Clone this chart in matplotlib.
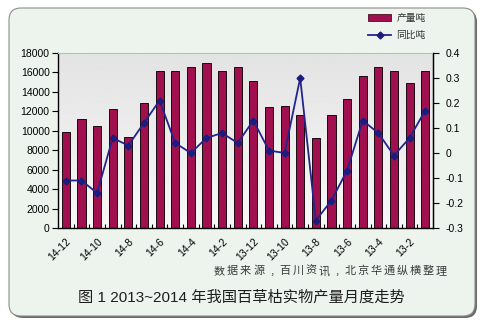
import matplotlib
matplotlib.use("Agg")
import matplotlib.pyplot as plt
import numpy as np
from matplotlib.patches import FancyBboxPatch, Patch
from matplotlib.lines import Line2D

plt.rcParams['font.family'] = ['Liberation Sans', 'Noto Sans CJK SC', 'DejaVu Sans']

# Monthly output (tons) and year-on-year change, Dec 2014 back to Jan 2013
months = ['14-12', '14-11', '14-10', '14-9', '14-8', '14-7', '14-6', '14-5',
          '14-4', '14-3', '14-2', '14-1', '13-12', '13-11', '13-10', '13-9',
          '13-8', '13-7', '13-6', '13-5', '13-4', '13-3', '13-2', '13-1']
output_t = [9900, 11200, 10500, 12200, 9400, 12900, 16100, 16100,
            16600, 17000, 16100, 16600, 15100, 12400, 12500, 11600,
            9300, 11600, 13300, 15600, 16600, 16100, 14900, 16100]
yoy = [-0.11, -0.11, -0.16, 0.06, 0.03, 0.12, 0.21, 0.04,
       0.00, 0.06, 0.08, 0.04, 0.13, 0.01, 0.00, 0.30,
       -0.27, -0.19, -0.07, 0.13, 0.08, -0.01, 0.06, 0.17]
left_ticks = list(range(0, 18001, 2000))
right_ticks = [-0.3, -0.2, -0.1, 0, 0.1, 0.2, 0.3, 0.4]
right_labels = ['-0.3', '-0.2', '-0.1', '0', '0.1', '0.2', '0.3', '0.4']
source_note = '数据来源,百川资讯,北京华通纵横整理'
caption = '图 1 2013~2014 年我国百草枯实物产量月度走势'

W, H = 487, 326
fig = plt.figure(figsize=(W / 100, H / 100), dpi=100)
fig.patch.set_facecolor('white')

# rounded panel with a drop shadow
shadow = FancyBboxPatch((11, 8), 466, 308, boxstyle='round,pad=0,rounding_size=12',
                        transform=None, facecolor='#6a6a6a', edgecolor='none', zorder=-10)
panel = FancyBboxPatch((9, 10), 466, 308, boxstyle='round,pad=0,rounding_size=12',
                       transform=None, facecolor='#edf4ee', edgecolor='#8c8c8c',
                       linewidth=0.8, zorder=-9)
fig.patches.extend([shadow, panel])

ax = fig.add_axes([58 / W, 1 - 228 / H, (433 - 58) / W, (228 - 53) / H])
ax.set_xlim(-0.5, len(months) - 0.5)
ax.set_ylim(0, 18000)

# soft vertical gradient behind the plot
grad = np.linspace(0.97, 0.89, 256).reshape(-1, 1)
ax.imshow(grad, extent=(-0.5, len(months) - 0.5, 0, 18000), aspect='auto',
          cmap='gray', vmin=0, vmax=1, origin='lower', zorder=0)

x = np.arange(len(months))
ax.bar(x, output_t, width=0.52, color='#a0104e', edgecolor='#1a0a10',
       linewidth=0.7, zorder=2)

ax.set_yticks(left_ticks)
ax.set_yticklabels([str(v) for v in left_ticks], fontsize=7.5)
ax.set_xticks(x[::2])
ax.set_xticklabels(months[::2], rotation=45, ha='right', va='top',
                   rotation_mode='anchor', fontsize=7.5)
ax.set_xticks(np.arange(0.5, len(months) - 0.5, 1), minor=True)
ax.tick_params(axis='x', which='major', length=0, pad=6)
ax.tick_params(axis='x', which='minor', direction='in', length=3, width=0.8)
ax.tick_params(axis='y', direction='out', length=4, width=0.8, pad=2)
for s in ['left', 'bottom', 'right']:
    ax.spines[s].set_color('black')
    ax.spines[s].set_linewidth(1.0)
ax.spines['top'].set_color('#bdbdbd')
ax.spines['top'].set_linewidth(0.8)

ax2 = ax.twinx()
ax2.set_ylim(-0.3, 0.4)
ax2.plot(x, yoy, color='#24248c', linewidth=1.3, marker='D', markersize=3.5,
         markerfacecolor='#1c1c80', markeredgecolor='#1c1c80', zorder=3)
ax2.set_yticks(right_ticks)
ax2.set_yticklabels(right_labels, fontsize=7.5)
ax2.tick_params(axis='y', direction='out', length=4, width=0.8, pad=5)
for s in ax2.spines.values():
    s.set_visible(False)
ax2.spines['right'].set_visible(True)
ax2.spines['right'].set_color('black')

handles = [Patch(facecolor='#a0104e', edgecolor='#4a1028', linewidth=0.6),
           Line2D([], [], color='#24248c', linewidth=1.3, marker='D', markersize=3.5,
                  markerfacecolor='#1c1c80', markeredgecolor='#1c1c80')]
leg = ax2.legend(handles, ['产量吨', '同比吨'], loc='upper left',
                 bbox_to_anchor=(368 / W, 1 - 13 / H), bbox_transform=fig.transFigure,
                 frameon=False, fontsize=7, handlelength=2.4, handleheight=0.8,
                 handletextpad=0.5, labelspacing=0.75, borderpad=0, borderaxespad=0)
for t in leg.get_texts():
    t.set_color('#333333')
    t.set_family(['Noto Sans CJK SC'])

# source note, letter-spaced across its line
x0, step = 219.5, 13.05
for i, ch in enumerate(source_note):
    fig.text((x0 + i * step) / W, 1 - 271 / H, ch, ha='center', va='center',
             fontsize=8, color='#3a3a3a', family=['Noto Sans CJK SC'])

fig.text(241 / W, 1 - 297 / H, caption, ha='center', va='center', fontsize=11,
         color='#1e1e1e', family=['Liberation Sans', 'Noto Sans CJK SC'])

fig.savefig('out.png', dpi=100)
